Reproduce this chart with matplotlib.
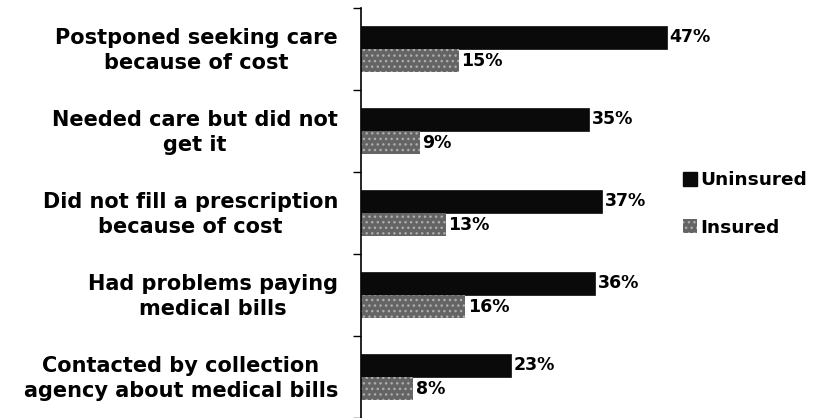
import matplotlib
matplotlib.use("Agg")
import matplotlib.pyplot as plt
import matplotlib.transforms as mtrans
import numpy as np
from matplotlib.patches import Patch

categories = [
    "Postponed seeking care\nbecause of cost",
    "Needed care but did not\nget it",
    "Did not fill a prescription\nbecause of cost",
    "Had problems paying\nmedical bills",
    "Contacted by collection\nagency about medical bills",
]
uninsured = [47, 35, 37, 36, 23]
insured = [15, 9, 13, 16, 8]
series_names = ["Uninsured", "Insured"]

plt.rcParams['font.family'] = ['DejaVu Sans']
plt.rcParams['font.weight'] = 'bold'
plt.rcParams['hatch.linewidth'] = 1.0

BLACK = '#0a0a0a'
GRAY = '#646464'
HATCHC = '#adadad'

fig = plt.figure(figsize=(8.15, 4.18), dpi=100)
ax = fig.add_axes([361/815, 0.0, 1 - 361/815 - 0.01, 1 - 8/418])

n = len(categories)
y = np.arange(n)
h = 0.285
ax.barh(y - h/2, uninsured, height=h, color=BLACK, edgecolor=BLACK, linewidth=0.5)
ax.barh(y + h/2, insured, height=h, facecolor=GRAY, edgecolor=HATCHC, hatch='...', linewidth=0)

for i in range(n):
    ax.text(uninsured[i] + 0.4, y[i] - h/2, f"{uninsured[i]}%", va='center', ha='left',
            fontsize=12.5, fontweight='bold')
    ax.text(insured[i] + 0.4, y[i] + h/2, f"{insured[i]}%", va='center', ha='left',
            fontsize=12.5, fontweight='bold')

width_px = 815 * (1 - 361/815 - 0.01)
ax.set_xlim(0, width_px / 6.51)
ax.set_ylim(n - 0.5, -0.5)
ax.set_yticks(y)
ax.set_yticklabels(categories, fontsize=15, fontweight='bold', linespacing=1.3,
                   multialignment='center')
ax.set_yticks(np.arange(n + 1) - 0.5, minor=True)
ax.tick_params(axis='y', which='major', length=0, pad=16.5)
ax.tick_params(axis='y', which='minor', length=6, width=1, direction='out')
ax.set_xticks([])
for s in ['top', 'right', 'bottom']:
    ax.spines[s].set_visible(False)
ax.spines['left'].set_linewidth(1.2)

offset = mtrans.ScaledTranslation(0, 3/100, fig.dpi_scale_trans)
for lbl in ax.get_yticklabels():
    lbl.set_transform(lbl.get_transform() + offset)

handles = [Patch(facecolor=BLACK, edgecolor=BLACK),
           Patch(facecolor=GRAY, edgecolor=HATCHC, hatch='...', linewidth=0)]
fig.legend(handles, series_names, loc='center left', bbox_to_anchor=(683/815, 1 - 204/418),
           frameon=False, handlelength=0.78, handleheight=0.78, handletextpad=0.18,
           borderpad=0, borderaxespad=0,
           labelspacing=1.6, prop={'weight': 'bold', 'size': 13.3})

fig.savefig("out.png", dpi=100)
